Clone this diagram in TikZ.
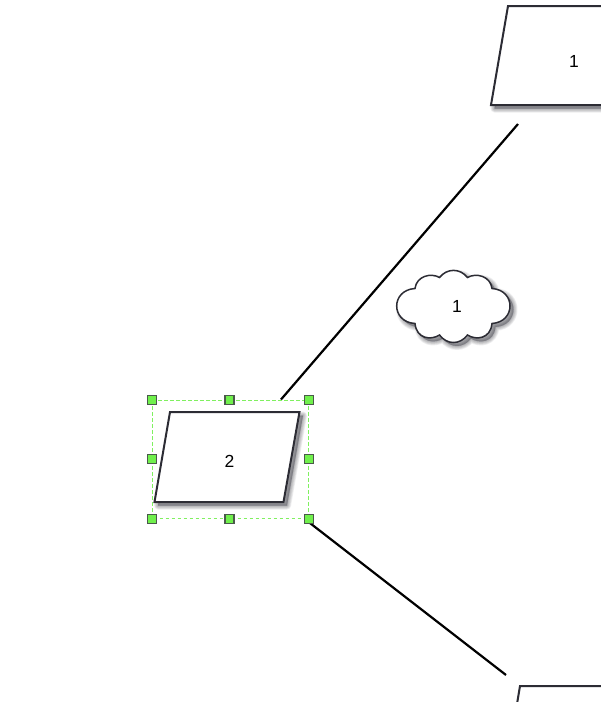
\documentclass[tikz,border=0pt]{standalone}
\usepackage{fontspec}
\setmainfont{Liberation Sans}
\definecolor{strokeDark}{HTML}{2C2C34}
\definecolor{handleGreen}{HTML}{70F04C}
\definecolor{handleEdge}{HTML}{4A5A4A}
\definecolor{frameGreen}{HTML}{80F060}
\definecolor{shadowGrey}{HTML}{30303A}
\tikzset{
  shapeline/.style={draw=strokeDark,line width=2pt,line join=miter,fill=white},
  connector/.style={draw=black,line width=2.2pt},
  label/.style={font=\fontsize{17.5}{20}\selectfont,text=black,inner sep=0pt},
  handle/.style={draw=handleEdge,fill=handleGreen,line width=1.1pt,minimum size=9pt,inner sep=0pt,rectangle},
  selbox/.style={draw=frameGreen,line width=1pt,dash pattern=on 3.5pt off 2.5pt},
  shadowlayer/.style={draw=shadowGrey,fill=shadowGrey,draw opacity=.08,fill opacity=.08,line join=round}
}
\newcommand{\softshadow}[1]{%
  \foreach \w in {8,6.5,5,3.5,2,0.5}{
    \path[shadowlayer,line width=\w pt,shift={(3.5pt,-3.5pt)}] #1;
  }%
}
\begin{document}
\begin{tikzpicture}[x=1pt,y=-1pt]
\useasboundingbox (0,0) rectangle (601,702);
\clip (0,0) rectangle (601,702);
\fill[white] (0,0) rectangle (601,702);
% connector ends
\coordinate (topEnd) at (518,124);
\coordinate (selTop) at (281,399.5);
\coordinate (selBot) at (306,520);
\coordinate (botEnd) at (506,675);
\draw[connector] (topEnd) -- (selTop);
\draw[connector] (selBot) -- (botEnd);
% top parallelogram
\softshadow{(508,6) -- (640,6) -- (640,105) -- (491,105) -- cycle}
\path[shapeline] (508,6) -- (640,6) -- (640,105) -- (491,105) -- cycle;
\node[label] (topLabel) at (574,61) {1};
% bottom parallelogram
\path[shapeline] (520,686) -- (640,686) -- (640,740) -- (511,740) -- cycle;
% cloud
\def\cloudpath{(415,288.5)
  .. controls (416.5,276) and (431,272.5) .. (439.5,277.5)
  .. controls (447,268) and (460,268) .. (467.5,277.5)
  .. controls (476,272.5) and (490.5,276) .. (492,288.5)
  .. controls (516,290) and (516,322) .. (492,323.5)
  .. controls (490.5,339) and (476,340.5) .. (467.5,335)
  .. controls (460,345) and (447,345) .. (439.5,335)
  .. controls (431,340.5) and (416.5,339) .. (415,323.5)
  .. controls (390.6,322) and (390.6,290) .. (415,288.5) -- cycle}
\softshadow{\cloudpath}
\path[shapeline,line width=1.5pt] \cloudpath;
\node[label] (cloudLabel) at (457,306.5) {1};
% selected parallelogram
\softshadow{(170,412) -- (299.5,412) -- (283.5,502) -- (154.5,502) -- cycle}
\path[shapeline] (170,412) -- (299.5,412) -- (283.5,502) -- (154.5,502) -- cycle;
\node[label] (selLabel) at (229.5,461.5) {2};
% selection frame and handles
\draw[selbox] (152,400.3) rectangle (308.6,518.6);
\node[handle] (h1) at (152,400) {};
\node[handle] (h2) at (229.5,400) {};
\node[handle] (h3) at (308.6,400) {};
\node[handle] (h4) at (152,459) {};
\node[handle] (h5) at (308.6,459) {};
\node[handle] (h6) at (152,518.8) {};
\node[handle] (h7) at (229.5,518.8) {};
\node[handle] (h8) at (308.6,518.8) {};
\end{tikzpicture}
\end{document}
